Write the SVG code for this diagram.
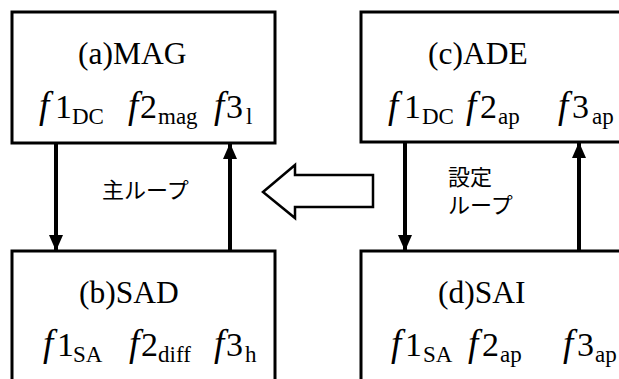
<svg xmlns="http://www.w3.org/2000/svg" width="619" height="379" viewBox="0 0 619 379">
<style>
.box{fill:#fff;stroke:#000;stroke-width:3}
.t{font-family:"Liberation Serif","Times New Roman",serif;font-size:31.5px;fill:#000}
.m{font-family:"Liberation Serif","Times New Roman",serif;font-size:34px;fill:#000}
.i{font-style:italic;font-size:37px}
.s{font-size:23px}
.jp{font-family:"Liberation Serif","Noto Sans CJK JP",sans-serif;font-size:22px;fill:#000}
.c{stroke:#000;stroke-width:4;fill:none}
</style>
<defs>
<marker id="ah" markerUnits="userSpaceOnUse" markerWidth="16" markerHeight="14" refX="16" refY="7" orient="auto" viewBox="0 0 16 14">
<path d="M0,0 L16,7 L0,14 z" fill="#000"/>
</marker>
</defs>
<g id="connectors">
<line class="c" x1="56" y1="143" x2="56" y2="251" marker-end="url(#ah)"/>
<line class="c" x1="230" y1="251" x2="230" y2="143" marker-end="url(#ah)"/>
<line class="c" x1="405" y1="142" x2="405" y2="251" marker-end="url(#ah)"/>
<line class="c" x1="579" y1="251" x2="579" y2="142" marker-end="url(#ah)"/>
<polygon points="263,192 295,165 295,175 373,175 373,207 295,207 295,218" fill="#fff" stroke="#000" stroke-width="2.5" stroke-linejoin="miter"/>
<text class="jp" x="102" y="198">主ループ</text>
<text class="jp" x="448" y="185">設定</text>
<text class="jp" x="448" y="213">ループ</text>
</g>
<g id="node-a">
<rect class="box" x="12" y="12" width="263" height="131"/>
<text class="t" x="78" y="64">(a)MAG</text>
<text class="m" y="118"><tspan class="i" x="39">f</tspan><tspan x="55">1</tspan><tspan class="s" x="72" y="124">DC</tspan><tspan class="i" x="128" y="118">f</tspan><tspan x="140">2</tspan><tspan class="s" x="158" y="124">mag</tspan><tspan class="i" x="214" y="118">f</tspan><tspan x="226">3</tspan><tspan class="s" x="246" y="124">l</tspan></text>
</g>
<g id="node-b">
<rect class="box" x="12" y="251" width="263" height="140"/>
<text class="t" x="79" y="303">(b)SAD</text>
<text class="m" y="356"><tspan class="i" x="43">f</tspan><tspan x="57">1</tspan><tspan class="s" x="73" y="362">SA</tspan><tspan class="i" x="129" y="356">f</tspan><tspan x="141">2</tspan><tspan class="s" x="158" y="362">diff</tspan><tspan class="i" x="214" y="356">f</tspan><tspan x="226">3</tspan><tspan class="s" x="245" y="362">h</tspan></text>
</g>
<g id="node-c">
<rect class="box" x="361" y="12" width="270" height="130"/>
<text class="t" x="428" y="64">(c)ADE</text>
<text class="m" y="118"><tspan class="i" x="388">f</tspan><tspan x="404">1</tspan><tspan class="s" x="422" y="124">DC</tspan><tspan class="i" x="466" y="118">f</tspan><tspan x="480">2</tspan><tspan class="s" x="498" y="124">ap</tspan><tspan class="i" x="558" y="118">f</tspan><tspan x="572">3</tspan><tspan class="s" x="592" y="124">ap</tspan></text>
</g>
<g id="node-d">
<rect class="box" x="361" y="251" width="270" height="140"/>
<text class="t" x="438" y="303">(d)SAI</text>
<text class="m" y="356"><tspan class="i" x="391">f</tspan><tspan x="405">1</tspan><tspan class="s" x="423" y="362">SA</tspan><tspan class="i" x="468" y="356">f</tspan><tspan x="482">2</tspan><tspan class="s" x="500" y="362">ap</tspan><tspan class="i" x="563" y="356">f</tspan><tspan x="577">3</tspan><tspan class="s" x="595" y="362">ap</tspan></text>
</g>
</svg>
